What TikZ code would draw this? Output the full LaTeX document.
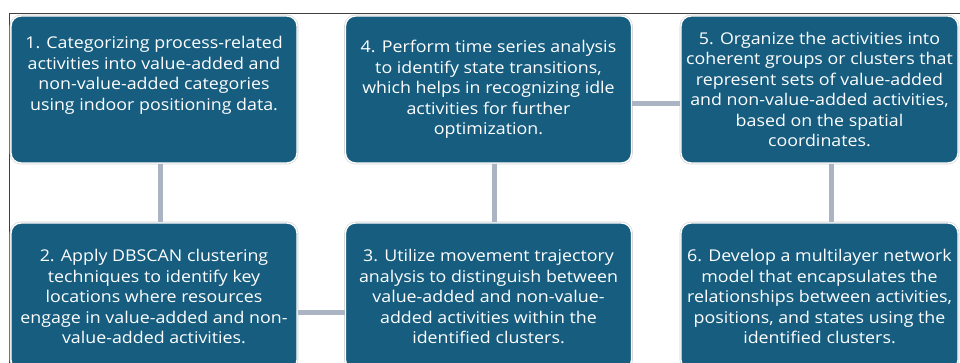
\documentclass[tikz,border=0pt]{standalone}
\usepackage{fontspec}
\setmainfont[FakeStretch=1.1]{Open Sans}
\definecolor{boxblue}{RGB}{22,93,128}
\definecolor{linkgray}{RGB}{170,180,194}
\definecolor{framegray}{RGB}{64,64,64}
\begin{document}
\begin{tikzpicture}[x=1pt,y=-1pt,
  stepbox/.style={rectangle, rounded corners=10pt, fill=boxblue, draw=white,
    line width=1.4pt, preaction={draw=black!18, line width=2.6pt},
    minimum width=286pt, minimum height=147pt, inner sep=0pt,
    text=white, align=center,
    font=\fontsize{16.2pt}{20.5pt}\selectfont},
  link/.style={draw=linkgray, line width=5pt}]
\useasboundingbox (0,0) rectangle (960,363);
\clip (0,0) rectangle (960,363);

% outer frame
\draw[framegray, line width=1pt] (9,364) -- (9,14) -- (961,14);

% connector positions
\coordinate (v12) at (160,0);
\coordinate (v43) at (494,0);
\coordinate (v56) at (831,0);
\coordinate (h45) at (0,104);
\coordinate (h23) at (0,312);

% steps
\node[stepbox] (b1) at (154,89.5) {1. Categorizing process-related\\activities into value-added and\\non-value-added categories\\using indoor positioning data.\\[12pt]\mbox{}};
\node[stepbox] (b4) at (488.5,89.5) {4. Perform time series analysis\\to identify state transitions,\\which helps in recognizing idle\\activities for further\\optimization.};
\node[stepbox, minimum width=277pt] (b5) at (819.5,89.5) {5. Organize the activities into\\coherent groups or clusters that\\represent sets of value-added\\and non-value-added activities,\\based on the spatial\\coordinates.};
\node[stepbox] (b2) at (154,296.5) {2. Apply DBSCAN clustering\\techniques to identify key\\locations where resources\\engage in value-added and non-\\value-added activities.};
\node[stepbox] (b3) at (488.5,296.5) {3. Utilize movement trajectory\\analysis to distinguish between\\value-added and non-value-\\added activities within the\\identified clusters.};
\node[stepbox, minimum width=277pt] (b6) at (819.5,296.5) {6. Develop a multilayer network\\model that encapsulates the\\relationships between activities,\\positions, and states using the\\identified clusters.};

% connectors
\draw[link] (b1.south -| v12) -- (b2.north -| v12);
\draw[link] (b4.south -| v43) -- (b3.north -| v43);
\draw[link] (b5.south -| v56) -- (b6.north -| v56);
\draw[link] (b4.east |- h45) -- (b5.west |- h45);
\draw[link] (b2.east |- h23) -- (b3.west |- h23);
\end{tikzpicture}
\end{document}
